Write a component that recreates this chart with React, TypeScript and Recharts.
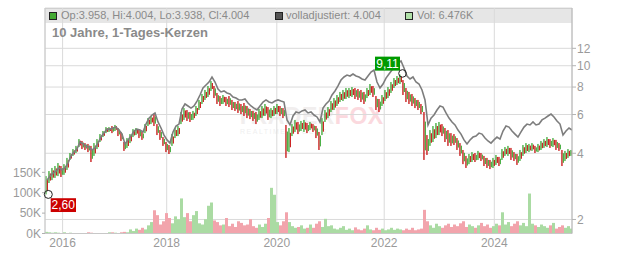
import React from "react";
import {
  ComposedChart,
  Bar,
  Line,
  XAxis,
  YAxis,
  CartesianGrid,
  ReferenceDot,
} from "recharts";

// one bucket = a few trading days
const yearLabels = ["2016", "2018", "2020", "2022", "2024"];
const yearTicks = [5.2, 39.9, 76.6, 112.4, 149.1];
const priceTicks = [2, 4, 6, 8, 10, 12];
const volumeTicks = [0, 50000, 100000, 150000];

const highs = [
  3.15, 3.32, 3.43, 3.5, 3.61, 3.5, 3.57, 3.81, 4.01, 4.18, 4.32, 4.64, 4.55, 4.45, 4.41,
  4.32, 4.45, 4.64, 4.89, 5.05, 5.26, 5.26, 5.32, 5.38, 5.21, 5.0, 4.5, 4.69, 4.89, 5.15,
  5.21, 5.15, 5.0, 5.43, 5.78, 5.91, 6.03, 5.43, 5.1, 4.74, 4.5, 4.36, 4.89, 5.21, 5.32,
  6.16, 6.42, 6.29, 6.16, 6.23, 6.56, 6.99, 7.44, 7.76, 8.09, 8.52, 8.09, 7.52, 7.28, 7.36,
  7.21, 7.28, 6.99, 6.84, 6.91, 6.7, 6.77, 6.56, 6.36, 6.23, 6.16, 6.36, 6.56, 6.7, 6.49,
  6.42, 6.56, 6.7, 6.56, 6.42, 5.38, 5.21, 5.43, 5.67, 5.55, 5.61, 5.67, 5.49, 5.55, 5.43,
  5.32, 5.0, 5.78, 6.29, 6.49, 6.91, 7.13, 7.36, 7.6, 7.76, 7.92, 7.92, 8.0, 7.92, 7.84,
  7.76, 7.6, 7.92, 8.26, 8.09, 7.28, 7.06, 7.36, 7.76, 8.0, 8.43, 8.79, 8.98, 9.11, 8.61,
  7.92, 7.6, 7.44, 7.13, 6.99, 6.7, 6.16, 4.84, 5.1, 5.32, 5.49,
  5.55, 5.43, 5.21, 5.1, 4.94, 4.89, 4.69, 4.45, 4.14, 3.89, 3.97, 4.05, 4.01, 4.1, 4.01,
  3.89, 3.81, 3.73, 3.81, 3.93, 3.85, 4.18, 4.27, 4.32, 4.23, 4.05, 3.97, 4.14, 4.36, 4.45,
  4.41, 4.45, 4.32, 4.41, 4.55, 4.64, 4.74, 4.64, 4.69, 4.6, 4.45, 4.14, 4.1, 4.18, 4.14,
];

const lows = [
  2.6, 2.93, 3.02, 3.09, 3.15, 3.12, 3.19, 3.36, 3.73, 3.89, 4.01, 4.27, 4.18, 4.14, 4.05,
  3.65, 3.89, 4.18, 4.5, 4.74, 4.94, 5.0, 4.94, 5.05, 4.79, 4.55, 4.1, 4.23, 4.45, 4.74,
  4.84, 4.69, 4.6, 4.94, 5.32, 5.43, 5.32, 4.84, 4.6, 4.32, 4.05, 3.97, 4.32, 4.69, 4.79,
  5.43, 5.67, 5.61, 5.55, 5.67, 5.91, 6.29, 6.7, 6.99, 7.21, 7.68, 7.13, 6.7, 6.56, 6.7,
  6.56, 6.49, 6.29, 6.23, 6.1, 6.03, 5.91, 5.78, 5.72, 5.61, 5.43, 5.67, 5.78, 5.91, 5.67,
  5.78, 5.91, 6.03, 5.91, 5.78, 3.81, 4.05, 4.79, 5.0, 4.89, 5.05, 5.0, 4.94, 5.1, 5.0,
  4.69, 4.14, 4.84, 5.55, 5.78, 6.16, 6.29, 6.56, 6.84, 6.91, 7.06, 7.13, 7.21, 7.06, 6.99,
  6.84, 6.7, 7.13, 7.36, 7.21, 6.29, 6.16, 6.56, 6.91, 7.13, 7.52, 7.92, 8.17, 8.26, 7.36,
  6.84, 6.7, 6.56, 6.42, 6.29, 6.03, 3.73, 3.93, 4.32, 4.5, 4.69,
  4.84, 4.79, 4.5, 4.32, 4.32, 4.36, 4.14, 3.89, 3.57, 3.43, 3.57, 3.65, 3.65, 3.73, 3.69,
  3.5, 3.43, 3.39, 3.43, 3.54, 3.5, 3.73, 3.89, 3.89, 3.73, 3.69, 3.54, 3.69, 3.89, 4.01,
  4.05, 4.1, 4.01, 4.05, 4.14, 4.23, 4.27, 4.23, 4.27, 4.14, 4.1, 3.5, 3.69, 3.81, 3.89,
];

const adjusted = [
  3.02, 3.15, 3.25, 3.32, 3.43, 3.36, 3.43, 3.61, 3.89, 4.05, 4.18, 4.5, 4.41, 4.32, 4.27,
  4.14, 4.23, 4.45, 4.74, 4.94, 5.15, 5.15, 5.21, 5.26, 5.1, 4.89, 4.41, 4.6, 4.79, 5.05,
  5.15, 5.1, 5.0, 5.43, 5.78, 5.97, 6.1, 5.55, 5.21, 4.84, 4.6, 4.45, 5.0, 5.32, 5.43,
  6.36, 6.7, 6.56, 6.42, 6.56, 6.91, 7.36, 7.92, 8.17, 8.43, 8.89, 8.43, 7.84, 7.6, 7.68,
  7.52, 7.44, 7.21, 7.13, 6.99, 6.99, 7.06, 6.77, 6.56, 6.42, 6.29, 6.56, 6.84, 6.99, 6.84,
  6.77, 6.91, 6.99, 6.91, 6.84, 5.67, 5.38, 5.91, 6.16, 6.1, 6.23, 6.29, 6.1, 6.16, 5.97,
  5.85, 5.55, 6.42, 6.7, 6.91, 7.36, 7.68, 8.09, 8.61, 8.89, 9.07, 8.98, 9.17, 8.98, 8.89,
  8.7, 8.61, 8.98, 9.36, 9.56, 8.43, 7.92, 8.26, 8.79, 9.17, 9.56, 9.97, 10.29, 10.51, 9.76,
  8.98, 8.7, 8.89, 8.43, 8.26, 7.76, 6.99, 5.38, 5.78, 5.97, 6.29,
  6.56, 6.49, 6.1, 5.78, 5.55, 5.38, 5.1, 4.89, 4.6, 4.41, 4.6, 4.74, 4.79, 4.94, 4.89,
  4.69, 4.55, 4.45, 4.6, 4.74, 4.64, 5.05, 5.32, 5.26, 5.05, 4.89, 4.74, 5.0, 5.26, 5.43,
  5.38, 5.55, 5.38, 5.43, 5.67, 5.78, 5.91, 6.03, 5.85, 5.61, 5.43, 4.84, 5.05, 5.21, 5.1,
];

const volumesK = [
  4, 3, 2, 3, 2, 1, 3, 1, 2, 1, 1, 0.5, 1, 0.5, 3,
  2, 0.5, 1, 0.5, 0.5, 1, 3, 3, 2, 0.5, 3, 4, 3, 10, 6,
  12, 9, 14, 10, 20, 28, 57, 45, 22, 30, 50, 38, 25, 42, 35,
  86, 40, 50, 30, 45, 55, 25, 22, 35, 68, 76, 32, 28, 20, 22,
  38, 18, 24, 16, 30, 26, 20, 22, 35, 18, 14, 22, 16, 24, 38,
  112, 95, 28, 20, 30, 52, 28, 18, 14, 16, 20, 12, 14, 22, 14,
  24, 30, 16, 36, 18, 20, 12, 10, 14, 18, 9, 12, 8, 15, 10,
  8, 12, 20, 10, 8, 14, 9, 12, 8, 10, 14, 9, 12, 10, 8,
  12, 9, 14, 8, 10, 12, 58, 30, 20, 14, 24,
  18, 14, 20, 24, 16, 22, 18, 25, 30, 16, 22, 18, 14, 20, 26,
  18, 22, 14, 18, 24, 20, 52, 22, 28, 18, 24, 30, 20, 26, 18,
  98, 24, 20, 16, 22, 18, 14, 20, 26, 12, 16, 20, 14, 18, 12,
];

const GREEN = "#3ba935";
const RED = "#c70f0f";
const VOL_GREEN = "#aadba3";
const VOL_RED = "#f2a4ac";
const FONT = "Arial, 'Liberation Sans', sans-serif";

const rows = highs.map((high, i) => {
  const low = lows[i];
  const prev = i > 0 ? highs[i - 1] * lows[i - 1] : 0;
  return {
    i,
    range: [low, high],
    adj: adjusted[i],
    vol: volumesK[i] * 1000,
    up: high * low >= prev,
  };
});

const iMin = lows.indexOf(Math.min(...lows));
const iMax = highs.indexOf(Math.max(...highs));
const fmt = (v: number) => v.toFixed(2).replace(".", ",");

// each bucket holds up and down days: the bucket's own direction gets the
// full range, the other colour a thinner stroke over the middle of it
function Candle(props: any) {
  const { x, y, width, height, payload } = props;
  const top = Math.min(y, y + height);
  const h = Math.max(Math.abs(height), 1);
  const cx = x + width / 2;
  const main = payload.up ? GREEN : RED;
  const other = payload.up ? RED : GREEN;
  return (
    <g>
      <rect x={cx - 1.2} y={top} width={1.3} height={h} fill={main} />
      <rect x={cx + 0.3} y={top + h * 0.2} width={1.1} height={Math.max(h * 0.6, 1)} fill={other} />
    </g>
  );
}

function VolBar(props: any) {
  const { x, y, width, height, payload } = props;
  if (!height) return null;
  return (
    <rect x={x + width / 2 - 1.5} y={y} width={3} height={height} fill={payload.up ? VOL_GREEN : VOL_RED} />
  );
}

function LowMark(props: any) {
  const { cx, cy } = props;
  return (
    <g>
      <circle cx={cx + 1.3} cy={cy} r={4} fill="none" stroke="#222" strokeWidth={1} />
      <rect x={cx + 3.7} y={cy + 3.8} width={25.3} height={13.8} fill="#cc0000" />
      <text x={cx + 16.3} y={cy + 15} textAnchor="middle" fill="#fff" fontSize={12} fontFamily={FONT}>
        {fmt(lows[iMin])}
      </text>
    </g>
  );
}

function HighMark(props: any) {
  const { cx, cy } = props;
  return (
    <g>
      <rect x={cx - 26} y={cy - 18} width={25} height={14} fill="#009a00" />
      <text x={cx - 13.5} y={cy - 6.8} textAnchor="middle" fill="#fff" fontSize={12} fontFamily={FONT}>
        {fmt(highs[iMax])}
      </text>
      <circle cx={cx + 1.5} cy={cy - 1.2} r={3.8} fill="none" stroke="#222" strokeWidth={1} />
    </g>
  );
}

const legendBox = (left: number, color: string): React.CSSProperties => ({
  position: "absolute",
  left,
  top: 12,
  width: 6,
  height: 6,
  background: color,
  border: "1px solid #222",
});

const headText = (left: number): React.CSSProperties => ({
  position: "absolute",
  left,
  top: 9,
  fontSize: 11,
  lineHeight: "13px",
  color: "#8a8a8a",
  whiteSpace: "nowrap",
});

export default function App() {
  return (
    <div style={{ position: "relative", width: 632, height: 253, fontFamily: FONT, background: "#fff" }}>
      <style>{"body{margin:0}"}</style>
      {/* header band and watermark sit under the svg */}
      <div
        style={{
          position: "absolute",
          left: 45,
          top: 8,
          width: 527,
          height: 15,
          background: "#e6e6e6",
          borderTop: "1px solid #c4c4c4",
          boxSizing: "border-box",
        }}
      />
      <div
        style={{
          position: "absolute",
          left: 236,
          top: 105,
          fontSize: 23,
          lineHeight: "22px",
          fontWeight: 700,
          letterSpacing: 0.5,
          whiteSpace: "nowrap",
        }}
      >
        <span style={{ color: "#f1eeee" }}>TRADER</span>
        <span style={{ color: "#fbd9de" }}>FOX</span>
      </div>
      <div
        style={{
          position: "absolute",
          left: 240,
          top: 128,
          fontSize: 7,
          lineHeight: "8px",
          letterSpacing: 1.5,
          color: "#efefef",
          whiteSpace: "nowrap",
        }}
      >
        REALTIME STOCKS
      </div>

      <div style={{ position: "absolute", left: 0, top: 0 }}>
        <ComposedChart
          width={632}
          height={253}
          data={rows}
          margin={{ top: 8, right: 0, bottom: 0, left: 0 }}
          barGap={-2}
        >
          <CartesianGrid yAxisId="price" stroke="#dadada" strokeWidth={1} />
          <XAxis
            dataKey="i"
            type="number"
            domain={[-0.667, 175]}
            allowDataOverflow
            ticks={yearTicks}
            interval={0}
            tickFormatter={(v: number) => yearLabels[yearTicks.indexOf(v)] ?? ""}
            height={19.5}
            tickLine={false}
            tickSize={0}
            tickMargin={5}
            axisLine={{ stroke: "#c8c8c8" }}
            tick={{ fontSize: 12, fill: "#9a9a9a", fontFamily: FONT }}
          />
          <YAxis
            yAxisId="vol"
            orientation="left"
            width={45}
            domain={[0, 553000]}
            allowDataOverflow
            ticks={volumeTicks}
            interval={0}
            tickFormatter={(v: number) => `${v / 1000}K`}
            tickSize={3}
            tickMargin={1}
            axisLine={{ stroke: "#c8c8c8" }}
            tickLine={{ stroke: "#b0b0b0" }}
            tick={{ fontSize: 12, fill: "#9a9a9a", fontFamily: FONT }}
          />
          <YAxis
            yAxisId="price"
            orientation="right"
            width={60}
            scale="log"
            domain={[1.727, 18.3]}
            allowDataOverflow
            ticks={priceTicks}
            interval={0}
            tickSize={4}
            tickMargin={1}
            axisLine={{ stroke: "#b4b4b4" }}
            tickLine={{ stroke: "#b4b4b4" }}
            tick={{ fontSize: 12, fill: "#9a9a9a", fontFamily: FONT }}
          />
          <Bar yAxisId="vol" dataKey="vol" barSize={2} shape={<VolBar />} isAnimationActive={false} />
          <Line
            yAxisId="price"
            dataKey="adj"
            stroke="#7d7d7d"
            strokeWidth={1.6}
            dot={false}
            isAnimationActive={false}
          />
          <Bar yAxisId="price" dataKey="range" barSize={2} shape={<Candle />} isAnimationActive={false} />
          <ReferenceDot yAxisId="price" x={iMin} y={lows[iMin]} shape={<LowMark />} />
          <ReferenceDot yAxisId="price" x={iMax} y={highs[iMax]} shape={<HighMark />} />
        </ComposedChart>
      </div>

      <div style={legendBox(49, "#44aa33")} />
      <div style={headText(61)}>Op:3.958, Hi:4.004, Lo:3.938, Cl:4.004</div>
      <div style={legendBox(275, "#555")} />
      <div style={headText(286)}>volladjustiert: 4.004</div>
      <div style={legendBox(405, "#b0e0a8")} />
      <div style={headText(417)}>Vol: 6.476K</div>
      <div
        style={{
          position: "absolute",
          left: 52,
          top: 25,
          fontSize: 13,
          fontWeight: 700,
          lineHeight: "16px",
          color: "#8a8a8a",
          whiteSpace: "nowrap",
        }}
      >
        10 Jahre, 1-Tages-Kerzen
      </div>
    </div>
  );
}
